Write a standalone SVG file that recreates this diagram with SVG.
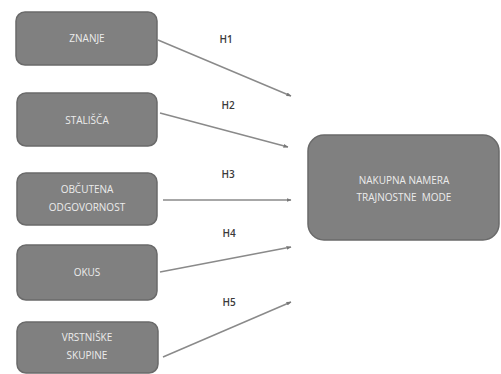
<svg xmlns="http://www.w3.org/2000/svg" width="501" height="374" viewBox="0 0 501 374">
<style>
.box{fill:#808080;stroke:#6a6a6a;stroke-width:1.5}
.lbl{font-family:"Open Sans","Liberation Sans",sans-serif;font-size:10px;fill:#ececec;text-anchor:middle}
.h{font-family:"Open Sans","Liberation Sans",sans-serif;font-size:10px;font-weight:600;fill:#3a3a3a;text-anchor:middle}
.c{stroke:#8a8a8a;stroke-width:1.5;fill:none;marker-end:url(#ah)}
</style>
<defs>
<marker id="ah" viewBox="0 0 10 10" refX="9" refY="5" markerWidth="5" markerHeight="5" orient="auto" markerUnits="userSpaceOnUse">
<path d="M0,1 L10,5 L0,9 z" fill="#777"/>
</marker>
</defs>
<rect width="501" height="374" fill="#fff"/>
<g id="n1"><rect class="box" x="16" y="12" width="141" height="53" rx="9"/><text class="lbl" x="87" y="42">ZNANJE</text></g>
<g id="n2"><rect class="box" x="17" y="93" width="140" height="53" rx="9"/><text class="lbl" x="87" y="124">STALIŠČA</text></g>
<g id="n3"><rect class="box" x="17" y="173" width="140" height="52" rx="9"/><text class="lbl" x="87" y="193">OBČUTENA</text><text class="lbl" x="87" y="211">ODGOVORNOST</text></g>
<g id="n4"><rect class="box" x="17" y="245" width="140" height="55" rx="9"/><text class="lbl" x="87" y="276">OKUS</text></g>
<g id="n5"><rect class="box" x="17" y="322" width="141" height="51" rx="9"/><text class="lbl" x="87" y="341">VRSTNIŠKE</text><text class="lbl" x="87" y="359">SKUPINE</text></g>
<g id="n6"><rect class="box" x="308" y="135" width="191" height="105" rx="16"/><text class="lbl" x="404" y="184">NAKUPNA NAMERA</text><text class="lbl" x="404" y="201" xml:space="preserve">TRAJNOSTNE  MODE</text></g>
<g id="connectors">
<line class="c" x1="158" y1="40" x2="291" y2="96"/>
<line class="c" x1="160" y1="113" x2="288" y2="147"/>
<line class="c" x1="163" y1="200" x2="291" y2="200"/>
<line class="c" x1="160" y1="272" x2="291" y2="247"/>
<line class="c" x1="163" y1="357" x2="291" y2="302"/>
<text class="h" x="226" y="43">H1</text>
<text class="h" x="228" y="109">H2</text>
<text class="h" x="228" y="178">H3</text>
<text class="h" x="229" y="237">H4</text>
<text class="h" x="229" y="306">H5</text>
</g>
</svg>
